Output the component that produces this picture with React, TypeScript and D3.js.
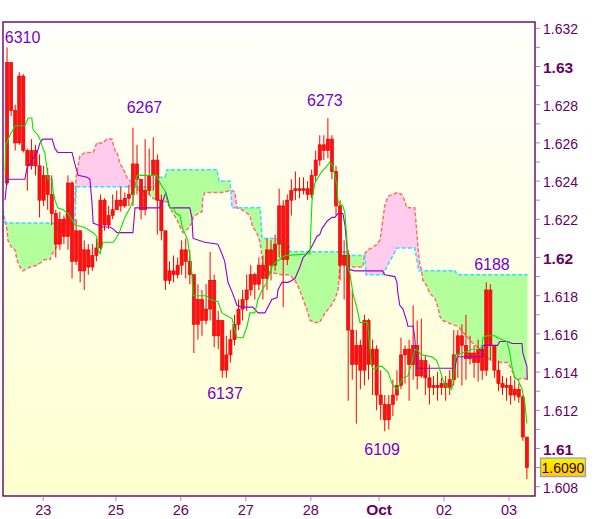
import React from "react";
import * as d3 from "d3";

// ---------- DATA ----------
const firstOpen = 1.6239;
const closes = [
  1.6302, 1.6277, 1.626, 1.6295, 1.6256, 1.6248, 1.6256, 1.6248, 1.623, 1.6243,
  1.6233, 1.6223, 1.6207, 1.622, 1.6211, 1.6239, 1.6198, 1.6214, 1.6193, 1.6204,
  1.6195, 1.6201, 1.6205, 1.623, 1.6217, 1.6222, 1.6225, 1.623, 1.6227, 1.6231,
  1.6233, 1.6249, 1.6241, 1.6225, 1.6235, 1.6243, 1.6251, 1.623, 1.6214, 1.6188,
  1.6193, 1.6191, 1.6196, 1.6204, 1.6198, 1.6191, 1.6165, 1.6178, 1.6167, 1.6173,
  1.6188, 1.6159, 1.6167, 1.6141, 1.6149, 1.6157, 1.6165, 1.6173, 1.6178, 1.6183,
  1.6191, 1.6186, 1.6196, 1.6189, 1.6204, 1.6196, 1.6207, 1.6227, 1.6199, 1.623,
  1.6235, 1.6236, 1.6235, 1.6236, 1.6233, 1.6243, 1.6251, 1.6259, 1.6256, 1.6262,
  1.6245, 1.6227, 1.6196, 1.6201, 1.6162, 1.6144, 1.6154, 1.6141, 1.6167, 1.6144,
  1.6152, 1.6128, 1.6123, 1.6115, 1.6123, 1.6128, 1.6133, 1.6149, 1.6152, 1.6144,
  1.6154, 1.6138, 1.6146, 1.6137, 1.6132, 1.6133, 1.6132, 1.6134, 1.6132, 1.6136,
  1.6149, 1.6159, 1.6154, 1.6147, 1.615, 1.6145, 1.6152, 1.6141, 1.6183, 1.6154,
  1.6141, 1.6134, 1.6132, 1.6133, 1.6128, 1.6131, 1.6127, 1.6106, 1.609,
];
const highs = [
  1.631, 1.6302, 1.628, 1.6297, 1.6296, 1.6257, 1.6262, 1.6259, 1.6254, 1.6248,
  1.6247, 1.6243, 1.6225, 1.6224, 1.6222, 1.6243, 1.624, 1.622, 1.6214, 1.6209,
  1.6207, 1.6207, 1.621, 1.6233, 1.6231, 1.6227, 1.6233, 1.6235, 1.6237, 1.6234,
  1.6238, 1.6268, 1.6259, 1.6241, 1.6262, 1.6257, 1.6263, 1.6254, 1.6233, 1.6214,
  1.6198, 1.6201, 1.62, 1.6209, 1.621, 1.6204, 1.6191, 1.6186, 1.6183, 1.6186,
  1.6203, 1.6191, 1.6172, 1.6167, 1.6159, 1.6162, 1.617, 1.6178, 1.6183, 1.6191,
  1.6196, 1.6192, 1.62, 1.6201, 1.621, 1.6209, 1.6212, 1.6236, 1.623, 1.6233,
  1.6241, 1.6245, 1.6242, 1.6242, 1.624, 1.6246, 1.6256, 1.6264, 1.6264, 1.6273,
  1.6264, 1.6248, 1.623, 1.6209, 1.6204, 1.6183, 1.6162, 1.6157, 1.617, 1.6168,
  1.6157, 1.6154, 1.6141, 1.6128, 1.6128, 1.6136, 1.6141, 1.6158, 1.6154, 1.6157,
  1.6175, 1.6167, 1.6168, 1.6149, 1.6144, 1.6138, 1.614, 1.6137, 1.6138, 1.6141,
  1.6162, 1.6162, 1.6165, 1.617, 1.6159, 1.6154, 1.6157, 1.6154, 1.6187, 1.6186,
  1.6154, 1.6146, 1.6138, 1.6137, 1.6138, 1.6136, 1.6134, 1.6128, 1.6106,
];
const lows = [
  1.6238, 1.6274, 1.6256, 1.6259, 1.6255, 1.6235, 1.6246, 1.6243, 1.6221, 1.6227,
  1.6225, 1.6217, 1.62, 1.6204, 1.6207, 1.6204, 1.6189, 1.6196, 1.6187, 1.6183,
  1.6191, 1.6193, 1.6198, 1.6204, 1.6214, 1.6215, 1.622, 1.6225, 1.6224, 1.6226,
  1.6227, 1.6227, 1.6233, 1.622, 1.6222, 1.6233, 1.6235, 1.6212, 1.6209, 1.6183,
  1.6186, 1.6187, 1.6189, 1.6191, 1.6189, 1.6186, 1.615, 1.6157, 1.6159, 1.6165,
  1.6167, 1.6153, 1.6152, 1.6137, 1.6137, 1.6145, 1.6154, 1.6162, 1.6167, 1.6172,
  1.618, 1.6178, 1.6183, 1.6178, 1.6183, 1.6188, 1.6193, 1.62, 1.6174, 1.6196,
  1.6222, 1.623, 1.6231, 1.6233, 1.623, 1.6231, 1.624, 1.6248, 1.6251, 1.6252,
  1.6241, 1.6222, 1.6188, 1.6178, 1.6125, 1.6136, 1.6113, 1.6131, 1.6133, 1.6136,
  1.6128, 1.612, 1.6115, 1.6109, 1.611, 1.6117, 1.6125, 1.6131, 1.6134, 1.6125,
  1.6136, 1.6131, 1.6137, 1.6128, 1.6123, 1.6128, 1.6125, 1.6128, 1.6125, 1.6128,
  1.6133, 1.6137, 1.6133, 1.6136, 1.6144, 1.6137, 1.6135, 1.6136, 1.6138, 1.6146,
  1.6137, 1.613, 1.6128, 1.6125, 1.6123, 1.6125, 1.6124, 1.6104, 1.6084,
];

// Tenkan-sen (green)
const tenkanT = [-0.5, -0.3, 0.7, 2.0, 4.4, 5.2, 6.1, 6.4, 7.6, 8.1, 8.8, 9.3, 9.8, 10.1, 11.1, 11.3, 11.8, 12.5, 13.8, 15.0, 16.0, 16.7, 18.7, 19.7, 20.4, 21.2, 22.1, 22.4, 22.9, 23.6, 26.1, 27.1, 27.8, 29.0, 30.3, 31.0, 31.5, 32.0, 36.9, 37.2, 38.2, 38.9, 39.4, 40.1, 40.9, 41.6, 42.6, 43.1, 44.5, 45.5, 45.8, 49.2, 49.9, 51.9, 52.9, 55.4, 56.1, 56.6, 58.1, 59.1, 59.8, 61.0, 61.8, 62.8, 64.0, 64.7, 65.2, 65.9, 67.7, 68.4, 74.6, 74.7, 75.1, 75.8, 76.6, 77.5, 78.8, 79.5, 80.2, 81.2, 81.5, 82.7, 83.2, 83.7, 83.9, 84.4, 85.2, 86.1, 86.9, 88.8, 89.3, 89.8, 90.6, 91.3, 92.3, 93.8, 94.8, 95.5, 96.2, 96.7, 97.5, 98.7, 99.7, 100.4, 101.2, 102.1, 104.6, 105.8, 106.6, 107.3, 108.3, 109.5, 109.8, 110.3, 112.0, 113.5, 114.5, 116.0, 116.9, 117.2, 118.1, 120.1, 120.8, 123.1, 123.8, 124.3, 125.0, 125.8, 126.8, 127.0, 127.5, 128.0];
const tenkanP = [1.6245, 1.6259, 1.6264, 1.6269, 1.6269, 1.6273, 1.6273, 1.6267, 1.6264, 1.6262, 1.6257, 1.6255, 1.6247, 1.6241, 1.6241, 1.6235, 1.623, 1.6226, 1.6225, 1.6223, 1.622, 1.6217, 1.6216, 1.6215, 1.6214, 1.6213, 1.6211, 1.6204, 1.6202, 1.6208, 1.6208, 1.6211, 1.6214, 1.6221, 1.6226, 1.623, 1.6237, 1.6243, 1.6243, 1.6241, 1.6237, 1.6235, 1.623, 1.6226, 1.6226, 1.6223, 1.6222, 1.6216, 1.6209, 1.6192, 1.618, 1.618, 1.6178, 1.6177, 1.6171, 1.6168, 1.6162, 1.6158, 1.6158, 1.6164, 1.6171, 1.6171, 1.6178, 1.6183, 1.6187, 1.6192, 1.6195, 1.6197, 1.62, 1.6201, 1.6202, 1.6209, 1.623, 1.6239, 1.6242, 1.6245, 1.6248, 1.625, 1.6248, 1.6238, 1.6229, 1.6227, 1.6223, 1.6209, 1.6195, 1.6192, 1.6181, 1.6174, 1.6166, 1.6166, 1.6153, 1.6143, 1.6141, 1.6143, 1.6143, 1.614, 1.6134, 1.6132, 1.6131, 1.6134, 1.6137, 1.6138, 1.6145, 1.6152, 1.6151, 1.6149, 1.6148, 1.6146, 1.6141, 1.6136, 1.6132, 1.6131, 1.6134, 1.6149, 1.615, 1.6151, 1.6152, 1.6152, 1.6153, 1.6158, 1.6159, 1.6159, 1.6158, 1.6156, 1.615, 1.6143, 1.6137, 1.6136, 1.6131, 1.6129, 1.6124, 1.6113];

// Kijun-sen (purple)
const kijunT = [-0.5, 0, 0.7, 4.4, 4.9, 5.6, 6.4, 7.4, 8.1, 8.8, 11.1, 11.8, 12.5, 16.0, 16.7, 17.5, 19.7, 20.4, 20.9, 21.2, 22.4, 23.6, 25.3, 26.1, 27.1, 31.0, 31.5, 37.2, 37.6, 38.4, 39.1, 39.6, 40.1, 45.0, 45.5, 45.8, 48.7, 51.9, 52.9, 53.6, 54.4, 55.4, 56.1, 56.6, 57.8, 60.5, 61.8, 63.5, 64.2, 65.2, 66.5, 66.7, 67.7, 69.2, 70.1, 70.9, 72.1, 72.9, 73.8, 74.6, 75.1, 76.3, 77.0, 77.5, 78.8, 80.0, 80.7, 81.5, 82.7, 83.2, 83.7, 83.9, 85.6, 92.5, 93.0, 95.5, 96.0, 96.2, 96.7, 97.5, 98.5, 98.7, 100.0, 100.4, 100.9, 110.3, 110.8, 116.9, 117.2, 120.8, 121.3, 123.3, 124.3, 126.8, 127.0, 128.0, 128.1];
const kijunP = [1.623, 1.6241, 1.6241, 1.6241, 1.6247, 1.6249, 1.6252, 1.6255, 1.626, 1.6262, 1.6262, 1.6257, 1.6255, 1.6255, 1.6249, 1.6243, 1.6242, 1.6241, 1.6229, 1.6218, 1.6217, 1.6216, 1.6216, 1.6215, 1.6213, 1.6213, 1.6226, 1.6226, 1.6226, 1.623, 1.6234, 1.623, 1.6226, 1.6226, 1.6221, 1.621, 1.6208, 1.6207, 1.6202, 1.6198, 1.6187, 1.6182, 1.6178, 1.6175, 1.6174, 1.6174, 1.6171, 1.6171, 1.6174, 1.6178, 1.6179, 1.6183, 1.6187, 1.6187, 1.6188, 1.6189, 1.6195, 1.62, 1.6202, 1.6204, 1.6206, 1.6211, 1.6212, 1.6215, 1.6219, 1.6221, 1.6221, 1.6223, 1.6223, 1.6217, 1.6205, 1.6194, 1.6193, 1.6193, 1.6191, 1.619, 1.6187, 1.6182, 1.6175, 1.6173, 1.6166, 1.6164, 1.6164, 1.6158, 1.6142, 1.6142, 1.6148, 1.6148, 1.6154, 1.6154, 1.6156, 1.6156, 1.6155, 1.6155, 1.615, 1.6143, 1.6136];

// Senkou span A (salmon dashed)
const spanAT = [-1.0, -0.5, 0, 0.2, 1.2, 2.0, 2.4, 3.2, 3.9, 5.6, 7.4, 8.1, 9.3, 10.6, 11.1, 11.8, 12.5, 13.5, 13.8, 14.8, 15.5, 16.2, 16.7, 17.0, 17.9, 19.2, 21.2, 22.1, 22.9, 23.6, 24.6, 25.8, 26.6, 27.1, 27.8, 28.5, 29.5, 30.8, 31.5, 32.7, 34.5, 35.9, 37.6, 39.4, 40.1, 40.9, 41.8, 42.6, 43.3, 43.8, 44.5, 45.5, 45.8, 46.3, 47.0, 48.0, 48.2, 48.7, 52.9, 54.9, 55.6, 56.1, 56.6, 57.8, 58.6, 59.8, 60.5, 61.5, 62.3, 62.8, 63.0, 63.5, 65.2, 67.7, 69.6, 70.9, 72.1, 72.9, 73.8, 74.6, 75.8, 77.0, 78.3, 79.5, 80.7, 81.5, 81.9, 82.4, 83.2, 85.6, 87.6, 88.1, 88.8, 89.8, 91.1, 91.8, 92.3, 93.0, 93.8, 94.8, 96.2, 97.2, 97.9, 98.4, 100.4, 100.9, 101.2, 101.6, 102.1, 102.4, 103.4, 104.1, 105.3, 106.1, 106.6, 107.3, 108.5, 109.5, 111.0, 112.2, 113.5, 114.7, 116.4, 117.7, 119.4, 121.8, 123.3, 124.3, 125.0, 125.8, 127.0, 128.2];
const spanAP = [1.6222, 1.622, 1.6214, 1.6209, 1.6205, 1.6204, 1.6199, 1.6195, 1.6193, 1.6195, 1.6196, 1.6197, 1.6199, 1.6199, 1.6202, 1.6204, 1.6207, 1.6214, 1.6218, 1.6224, 1.6227, 1.6229, 1.6229, 1.6242, 1.6253, 1.6255, 1.6255, 1.626, 1.626, 1.626, 1.6262, 1.6262, 1.6256, 1.6255, 1.6249, 1.6247, 1.6242, 1.6239, 1.6237, 1.6235, 1.6234, 1.6231, 1.623, 1.6229, 1.6226, 1.6223, 1.622, 1.6216, 1.6213, 1.6214, 1.6215, 1.6218, 1.6221, 1.6222, 1.6223, 1.6224, 1.6231, 1.6234, 1.6234, 1.6235, 1.6235, 1.6234, 1.6226, 1.6225, 1.6224, 1.6222, 1.6216, 1.6213, 1.6208, 1.62, 1.6195, 1.6193, 1.6192, 1.6191, 1.6191, 1.6188, 1.6183, 1.6178, 1.6173, 1.6167, 1.6166, 1.6166, 1.6171, 1.6174, 1.6178, 1.6183, 1.6195, 1.6198, 1.6196, 1.6195, 1.6195, 1.6202, 1.6204, 1.6205, 1.6207, 1.6209, 1.6216, 1.6227, 1.6232, 1.6233, 1.6234, 1.6233, 1.623, 1.6226, 1.6226, 1.6213, 1.6205, 1.6197, 1.6193, 1.6188, 1.6185, 1.6181, 1.6179, 1.6174, 1.6169, 1.6167, 1.6166, 1.6165, 1.6164, 1.6161, 1.6158, 1.6155, 1.6152, 1.6148, 1.6146, 1.6145, 1.6145, 1.6141, 1.6137, 1.6136, 1.6137, 1.6136];

// Senkou span B (cyan dashed)
const spanBT = [-1.0, -0.5, 16.7, 17.0, 36.4, 36.9, 38.9, 39.4, 51.7, 52.2, 54.9, 55.4, 62.3, 62.8, 69.2, 69.6, 83.9, 84.4, 88.1, 88.4, 92.5, 96.0, 100.4, 101.4, 110.3, 110.8, 128.2];
const spanBP = [1.6225, 1.6218, 1.6218, 1.6237, 1.6237, 1.6242, 1.6242, 1.6246, 1.6246, 1.624, 1.624, 1.6226, 1.6226, 1.621, 1.621, 1.6203, 1.6203, 1.6201, 1.6201, 1.6191, 1.6191, 1.6205, 1.6205, 1.6193, 1.6193, 1.6191, 1.6191];

// Axis ticks
const dayTickT = [8.9, 26.8, 42.8, 58.8, 74.8, 91.6, 107.6, 123.6];
const dayLabels = ["23", "25", "26", "27", "28", "Oct", "02", "03"];
const dayBold = [false, false, false, false, false, true, false, false];
const priceTicks = [1.608, 1.61, 1.612, 1.614, 1.616, 1.618, 1.62, 1.622, 1.624, 1.626, 1.628, 1.63, 1.632];
const priceLabels = ["1.608", "1.61", "1.612", "1.614", "1.616", "1.618", "1.62", "1.622", "1.624", "1.626", "1.628", "1.63", "1.632"];
const priceBold = [false, true, false, false, false, false, true, false, false, false, false, true, false];
const minorTicks = [1.609, 1.611, 1.613, 1.615, 1.617, 1.619, 1.621, 1.623, 1.625, 1.627, 1.629, 1.631];

// Extremum annotations
const annotIndex = [0, 31, 79, 53, 93, 118];
const annotIsHigh = [true, true, true, false, false, true];
const annotText = ["6310", "6267", "6273", "6137", "6109", "6188"];
const annotDx = [15.5, 11.5, -3, 2.7, -2.7, 5.7];
const annotDy = [-4, -14.6, -12, 21, 23.7, -12];

const lastPrice = "1.6090";
const lastValue = 1.609;

// ---------- STYLE ----------
const W = 600;
const H = 519;
const L = 3, R = 535, T = 22, B = 496;
const AXIS = "#660066";
const TICK = "#8a9aab";
const FONT = "'Liberation Sans', Arial, sans-serif";

export default function App() {
  const x = d3.scaleLinear().domain([-1, 130]).range([L, R]);
  const y = d3.scaleLinear().domain([1.608, 1.632]).range([486.7, 28.3]);

  const zip = (ts: number[], ps: number[]) => ts.map((t, i) => [t, ps[i]] as [number, number]);
  const line = d3.line<[number, number]>().x((d) => x(d[0])).y((d) => y(d[1]));

  const A = zip(spanAT, spanAP);
  const Bp = zip(spanBT, spanBP);
  const aPath = line(A) as string;
  const bPath = line(Bp) as string;
  const between = (line(Bp) as string) + "L" + (line([...A].reverse()) as string).slice(1) + "Z";
  const xa0 = x(A[0][0]);
  const xa1 = x(A[A.length - 1][0]);
  const aboveA = aPath + `L${xa1},0L${xa0},0Z`;
  const belowA = aPath + `L${xa1},${H}L${xa0},${H}Z`;

  const candles = closes.map((c, i) => {
    const o = i === 0 ? firstOpen : closes[i - 1];
    return { i, o, c, h: Math.max(highs[i], o, c), l: Math.min(lows[i], o, c) };
  });
  const bw = 3.2;

  return (
    <svg
      width={W}
      height={H}
      style={{ position: "absolute", left: 0, top: 0, display: "block" }}
      fontFamily={FONT}
    >
      <defs>
        <linearGradient id="bg" x1="0" y1="0" x2="0" y2="1">
          <stop offset="0%" stopColor="#fffffc" />
          <stop offset="100%" stopColor="#ffffcf" />
        </linearGradient>
        <linearGradient id="lp" x1="0" y1="0" x2="0" y2="1">
          <stop offset="0%" stopColor="#fff200" />
          <stop offset="100%" stopColor="#ffc800" />
        </linearGradient>
        <clipPath id="plot">
          <rect x={L} y={T} width={R - L} height={B - T} />
        </clipPath>
        <clipPath id="aboveA">
          <path d={aboveA} />
        </clipPath>
        <clipPath id="belowA">
          <path d={belowA} />
        </clipPath>
      </defs>
      <rect x={0} y={0} width={W} height={H} fill="#ffffff" />
      <rect x={L} y={T} width={R - L} height={B - T} fill="url(#bg)" />

      <g clipPath="url(#plot)">
        {/* cloud */}
        <g clipPath="url(#aboveA)">
          <path d={between} fill="#b3ff9c" fillRule="nonzero" />
        </g>
        <g clipPath="url(#belowA)">
          <path d={between} fill="#ffccee" fillRule="nonzero" />
        </g>
        <path d={aPath} fill="none" stroke="#ff6e6e" strokeWidth={1.5} strokeDasharray="4,2" />
        <path d={bPath} fill="none" stroke="#33ddff" strokeWidth={1.5} strokeDasharray="4,2" />

        {/* candles */}
        <g>
          {candles.map((d) => {
            const cx = x(d.i);
            const top = y(Math.max(d.o, d.c));
            const bot = y(Math.min(d.o, d.c));
            return (
              <g key={d.i}>
                <line x1={cx} x2={cx} y1={y(d.h)} y2={y(d.l)} stroke="#ff0000" strokeWidth={1} />
                <rect
                  x={cx - bw / 2}
                  y={top}
                  width={bw}
                  height={Math.max(1, bot - top)}
                  fill="#ff1010"
                  stroke="#e00000"
                  strokeWidth={0.6}
                />
              </g>
            );
          })}
        </g>

        {/* tenkan / kijun */}
        <path d={line(zip(kijunT, kijunP)) as string} fill="none" stroke="#9900cc" strokeWidth={1.1} />
        <path d={line(zip(tenkanT, tenkanP)) as string} fill="none" stroke="#00e600" strokeWidth={1.1} />

        {/* annotations */}
        {annotIndex.map((idx, k) => {
          const c = candles[idx];
          const base = annotIsHigh[k] ? c.h : c.l;
          return (
            <text
              key={k}
              x={x(idx) + annotDx[k]}
              y={y(base) + annotDy[k]}
              textAnchor="middle"
              fontSize={16}
              fill="#7a00cc"
            >
              {annotText[k]}
            </text>
          );
        })}
      </g>

      {/* frame */}
      <rect x={L} y={T} width={R - L} height={B - T} fill="none" stroke={AXIS} strokeWidth={1.4} />

      {/* y axis */}
      {minorTicks.map((v) => (
        <line key={"m" + v} x1={R + 1} x2={R + 5} y1={y(v)} y2={y(v)} stroke={TICK} strokeWidth={1} />
      ))}
      {priceTicks.map((v, i) => (
        <g key={"p" + v}>
          <line x1={R + 1} x2={R + 5} y1={y(v)} y2={y(v)} stroke={TICK} strokeWidth={1} />
          <text
            x={R + 8}
            y={y(v) + 1}
            dy="0.36em"
            fontSize={priceBold[i] ? 15.5 : 14}
            fontWeight={priceBold[i] ? "bold" : "normal"}
            fill={AXIS}
          >
            {priceLabels[i]}
          </text>
        </g>
      ))}

      {/* x axis */}
      {dayTickT.map((t, i) => (
        <g key={"d" + i}>
          <line x1={x(t)} x2={x(t)} y1={B + 1} y2={B + 5} stroke={TICK} strokeWidth={1} />
          <text
            x={x(t)}
            y={515}
            textAnchor="middle"
            fontSize={dayBold[i] ? 15.5 : 14.5}
            fontWeight={dayBold[i] ? "bold" : "normal"}
            fill={AXIS}
          >
            {dayLabels[i]}
          </text>
        </g>
      ))}

      {/* last price tag */}
      <rect x={540.5} y={y(lastValue) - 9.5} width={45} height={18.5} fill="url(#lp)" stroke="#8fa3b8" strokeWidth={1.3} />
      <text x={563} y={y(lastValue)} dy="0.37em" textAnchor="middle" fontSize={14} fill="#330033">
        {lastPrice}
      </text>
    </svg>
  );
}
